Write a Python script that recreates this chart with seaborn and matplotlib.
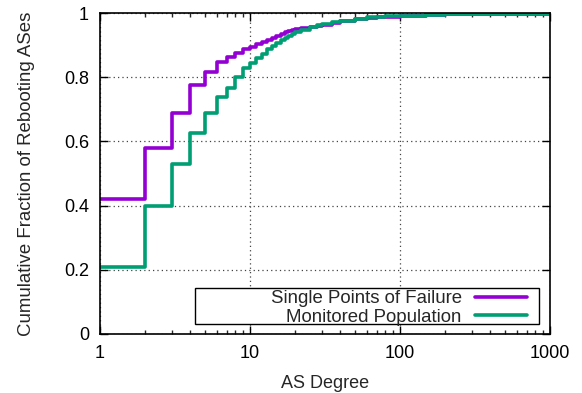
import matplotlib
matplotlib.use("Agg")
import matplotlib.pyplot as plt
import matplotlib.ticker as mticker
from matplotlib.patches import Rectangle
import seaborn as sns
import pandas as pd

degrees = [1, 2, 3, 4, 5, 6, 7, 8, 9, 10, 11, 12, 13, 14, 15, 16, 17, 18, 19, 20,
           22, 25, 28, 30, 35, 40, 50, 60, 70, 80, 100, 150, 200, 300, 500, 1000]
spof = [0.42, 0.58, 0.69, 0.775, 0.815, 0.848, 0.864, 0.875, 0.888, 0.895,
        0.902, 0.91, 0.916, 0.922, 0.928, 0.934, 0.94, 0.944, 0.947, 0.95,
        0.954, 0.957, 0.961, 0.964, 0.97, 0.974, 0.981, 0.985, 0.987, 0.989,
        0.991, 0.994, 0.996, 0.997, 0.998, 1.0]
monitored = [0.21, 0.40, 0.53, 0.625, 0.687, 0.737, 0.767, 0.80, 0.828, 0.845,
             0.86, 0.873, 0.888, 0.898, 0.908, 0.915, 0.922, 0.928, 0.934, 0.94,
             0.948, 0.956, 0.962, 0.966, 0.971, 0.975, 0.982, 0.986, 0.988, 0.99,
             0.992, 0.995, 0.996, 0.997, 0.998, 1.0]
series_names = ["Single Points of Failure", "Monitored Population"]
colors = ["#9400D3", "#009E73"]
x_ticks = [1, 10, 100, 1000]
y_ticks = [0, 0.2, 0.4, 0.6, 0.8, 1]

df = pd.DataFrame({
    "degree": degrees * 2,
    "frac": spof + monitored,
    "series": [series_names[0]] * len(degrees) + [series_names[1]] * len(degrees),
})

sns.set_style("ticks")
plt.rcParams["font.family"] = ["Liberation Sans", "DejaVu Sans"]

fig = plt.figure(figsize=(5.82, 3.93), dpi=100)
ax = fig.add_axes([100 / 582, 1 - 334 / 393, 450 / 582, 321 / 393])

sns.lineplot(data=df, x="degree", y="frac", hue="series", hue_order=series_names,
             palette=colors, drawstyle="steps-post", linewidth=2.6, legend=False,
             ax=ax, estimator=None, sort=False)

ax.set_xscale("log")
ax.set_xlim(1, 1000)
ax.set_ylim(0, 1)
ax.set_xticks(x_ticks)
ax.xaxis.set_major_formatter(mticker.FuncFormatter(lambda v, p: f"{v:g}"))
ax.set_yticks(y_ticks)
ax.yaxis.set_major_formatter(mticker.FuncFormatter(lambda v, p: f"{v:g}"))
ax.xaxis.set_minor_locator(mticker.LogLocator(base=10, subs=range(2, 10)))
ax.xaxis.set_minor_formatter(mticker.NullFormatter())

ax.grid(True, which="major", color="#444444", linestyle=(0, (1, 2.5)), linewidth=0.9)
ax.tick_params(axis="both", which="major", direction="in", length=6, width=1,
               top=True, right=True, labelsize=13, colors="black", pad=8)
ax.tick_params(axis="x", which="minor", direction="in", length=3, width=1,
               top=True, bottom=True)
for s in ax.spines.values():
    s.set_visible(True)
    s.set_linewidth(1.2)
    s.set_color("black")

ax.set_xlabel("AS Degree", fontsize=13, labelpad=9)
ax.set_ylabel("Cumulative Fraction of Rebooting ASes", fontsize=13.4, labelpad=21)

ax.add_patch(Rectangle((0.211, 0.031), 0.765, 0.112, transform=ax.transAxes,
                       facecolor="white", edgecolor="black", linewidth=1, zorder=4))
handles = ax.get_lines()[:2]
leg = ax.legend(handles, series_names, loc="lower right",
                bbox_to_anchor=(0.965, 0.002), frameon=False, markerfirst=False,
                fontsize=13.4, handlelength=2.8, handletextpad=0.7,
                labelspacing=0.1, borderaxespad=0)
leg.set_zorder(5)

fig.savefig("out.png", dpi=100)
